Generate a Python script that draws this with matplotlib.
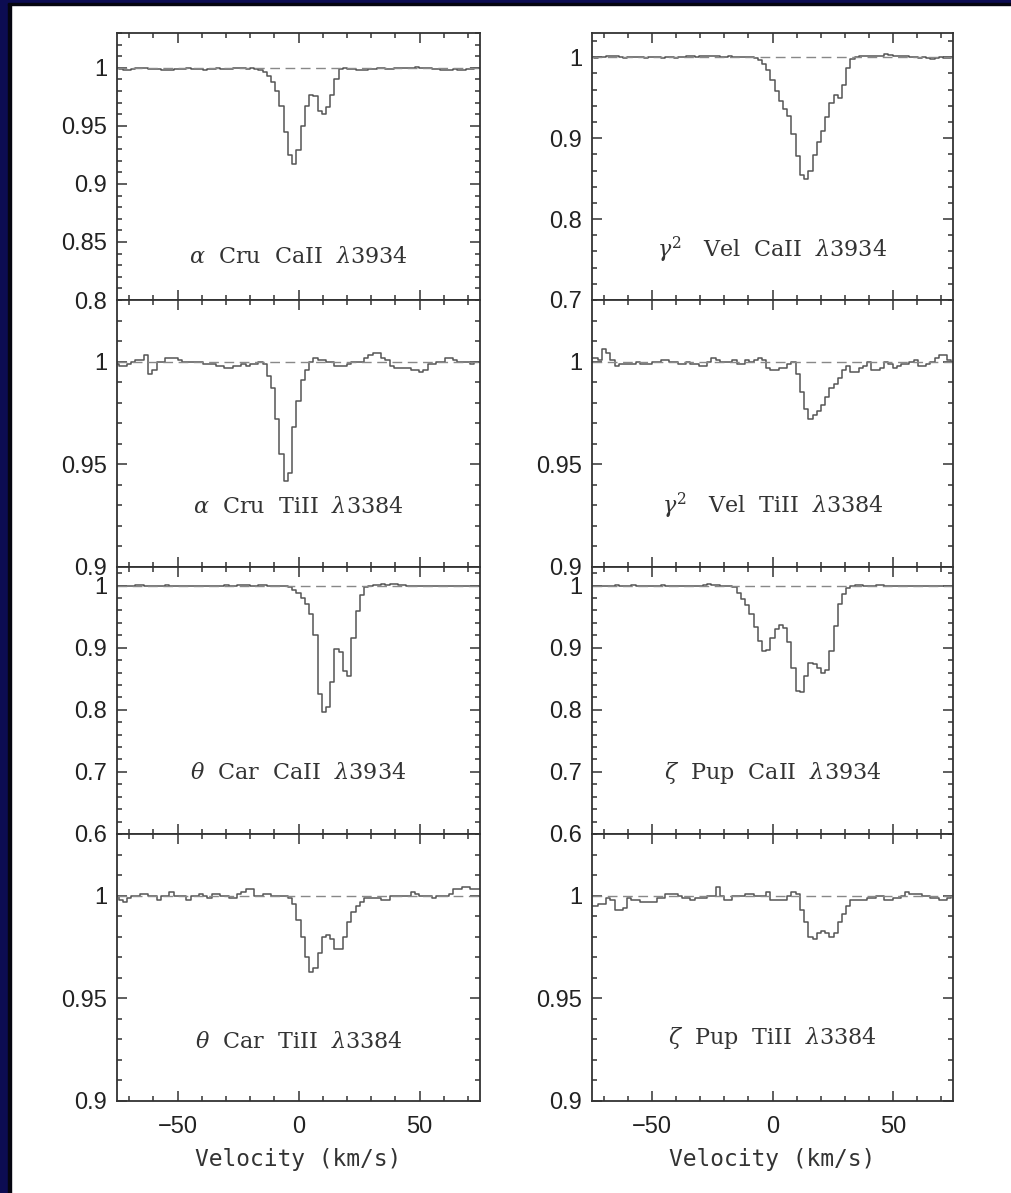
import matplotlib
matplotlib.use('Agg')
import matplotlib.pyplot as plt
import numpy as np
from matplotlib.ticker import MultipleLocator, FuncFormatter
from matplotlib.patches import Rectangle

plt.rcParams['mathtext.fontset'] = 'dejavuserif'

# velocity grid of the spectra (1.75 km/s pixels)
velocity = np.arange(-43, 44) * 1.75

alpha_cru_ca = [
    1.000, 0.999, 0.998, 0.998, 0.999, 1.000, 1.000, 1.000, 0.999, 0.999,
    0.999, 0.998, 0.998, 0.998, 0.999, 0.999, 0.999, 1.000, 0.999, 0.999,
    0.999, 0.998, 0.999, 0.999, 1.000, 0.999, 0.999, 0.999, 1.000, 1.000,
    1.000, 0.999, 1.000, 0.999, 0.998, 0.996, 0.993, 0.988, 0.980, 0.967,
    0.945, 0.925, 0.917, 0.929, 0.950, 0.967, 0.977, 0.976, 0.963, 0.960,
    0.966, 0.977, 0.990, 0.999, 1.000, 0.999, 0.999, 0.998, 0.998, 0.998,
    0.999, 0.999, 1.000, 1.000, 0.999, 0.999, 1.000, 1.000, 1.000, 1.000,
    1.000, 1.001, 1.000, 1.000, 1.000, 0.999, 0.999, 0.998, 0.998, 0.998,
    0.999, 0.998, 0.998, 0.999, 0.999, 1.000, 1.000]

gamma_vel_ca = [
    1.000, 0.999, 1.000, 1.000, 1.001, 1.002, 1.001, 1.000, 0.999, 1.000,
    1.000, 1.000, 1.000, 0.999, 1.000, 1.000, 1.000, 0.999, 1.000, 1.000,
    0.999, 1.000, 1.000, 1.001, 1.001, 1.000, 1.001, 1.002, 1.001, 1.001,
    1.001, 1.000, 1.000, 1.001, 1.000, 1.000, 1.000, 1.000, 1.000, 0.999,
    0.997, 0.992, 0.984, 0.972, 0.958, 0.946, 0.936, 0.928, 0.905, 0.878,
    0.855, 0.850, 0.859, 0.879, 0.895, 0.909, 0.926, 0.943, 0.953, 0.950,
    0.966, 0.987, 0.998, 1.000, 1.001, 1.001, 1.002, 1.001, 1.001, 1.002,
    1.004, 1.003, 1.002, 1.001, 1.001, 1.001, 1.000, 1.000, 0.999, 1.000,
    0.999, 0.998, 0.999, 1.000, 0.999, 0.999, 1.000]

alpha_cru_ti = [
    0.999, 0.998, 0.998, 0.999, 1.000, 1.001, 1.001, 1.003, 0.994, 0.996,
    1.000, 1.000, 1.002, 1.002, 1.002, 1.001, 1.000, 1.000, 1.000, 1.000,
    1.000, 0.999, 0.999, 0.999, 0.998, 0.998, 0.997, 0.997, 0.998, 0.998,
    0.999, 0.998, 0.999, 0.999, 1.000, 0.999, 0.993, 0.987, 0.972, 0.955,
    0.942, 0.946, 0.968, 0.981, 0.991, 0.996, 1.000, 1.002, 1.001, 1.001,
    1.000, 1.000, 0.998, 0.998, 0.998, 0.999, 1.000, 1.000, 1.000, 1.002,
    1.003, 1.004, 1.004, 1.002, 1.001, 0.998, 0.997, 0.997, 0.997, 0.997,
    0.996, 0.996, 0.995, 0.996, 0.999, 0.999, 1.000, 1.000, 1.002, 1.002,
    1.001, 1.000, 1.000, 1.000, 0.999, 1.000, 1.000]

gamma_vel_ti = [
    1.002, 1.002, 1.001, 1.006, 1.004, 1.001, 0.998, 0.999, 0.999, 0.999,
    0.999, 1.000, 0.999, 0.999, 0.999, 1.000, 1.000, 1.001, 1.001, 1.000,
    1.000, 0.999, 0.999, 1.000, 0.999, 0.999, 0.998, 0.998, 1.000, 1.002,
    1.001, 1.000, 1.000, 1.000, 1.001, 0.999, 0.999, 1.001, 1.000, 1.001,
    1.002, 1.001, 0.997, 0.996, 0.996, 0.997, 0.997, 0.999, 1.000, 0.994,
    0.985, 0.977, 0.972, 0.974, 0.976, 0.979, 0.983, 0.987, 0.989, 0.992,
    0.996, 0.998, 0.995, 0.995, 0.997, 0.998, 1.000, 0.996, 0.996, 0.997,
    1.000, 0.999, 0.997, 0.998, 0.999, 0.999, 1.000, 1.001, 0.998, 0.998,
    0.999, 1.000, 1.002, 1.003, 1.003, 1.001, 1.000]

theta_car_ca = [
    1.000, 0.999, 0.999, 1.000, 1.000, 1.001, 1.001, 1.000, 0.999, 0.999,
    1.000, 1.000, 1.001, 1.000, 0.999, 0.999, 1.000, 1.000, 1.000, 1.000,
    0.999, 0.999, 1.000, 1.000, 1.000, 1.000, 1.001, 1.000, 1.000, 1.001,
    1.001, 1.001, 1.000, 1.000, 1.001, 1.001, 1.000, 1.000, 1.000, 1.000,
    0.999, 0.997, 0.993, 0.988, 0.980, 0.970, 0.955, 0.920, 0.825, 0.796,
    0.804, 0.845, 0.898, 0.893, 0.862, 0.855, 0.915, 0.959, 0.985, 0.998,
    1.000, 1.001, 1.001, 1.002, 1.001, 1.002, 1.002, 1.001, 1.001, 1.000,
    1.000, 1.000, 0.999, 0.999, 1.000, 1.000, 1.000, 1.000, 0.999, 0.999,
    1.000, 1.000, 1.000, 0.999, 0.999, 1.000, 1.000]

zeta_pup_ca = [
    1.000, 0.999, 0.999, 1.000, 1.000, 1.000, 1.001, 1.000, 0.999, 1.000,
    1.001, 1.000, 0.999, 0.999, 1.000, 1.000, 1.000, 1.001, 1.000, 1.000,
    1.000, 0.999, 1.000, 1.000, 1.000, 1.000, 1.000, 1.001, 1.002, 1.001,
    1.001, 1.000, 1.000, 1.000, 0.998, 0.988, 0.978, 0.968, 0.955, 0.934,
    0.911, 0.895, 0.897, 0.915, 0.930, 0.936, 0.932, 0.910, 0.868, 0.830,
    0.828, 0.855, 0.876, 0.873, 0.867, 0.860, 0.864, 0.895, 0.935, 0.970,
    0.986, 0.996, 1.000, 1.001, 1.001, 1.000, 0.999, 1.000, 1.001, 1.001,
    1.000, 1.000, 1.000, 0.999, 0.999, 1.000, 1.000, 1.000, 0.999, 0.999,
    1.000, 1.000, 1.000, 1.000, 1.000, 0.999, 0.999]

theta_car_ti = [
    1.000, 0.998, 0.997, 0.999, 1.000, 1.000, 1.001, 1.001, 1.000, 1.000,
    0.998, 1.000, 1.000, 1.002, 1.000, 1.000, 1.000, 0.998, 1.000, 1.000,
    1.001, 1.000, 0.999, 1.001, 1.001, 1.000, 1.000, 0.999, 0.999, 1.001,
    1.002, 1.003, 1.003, 1.000, 1.000, 1.001, 1.001, 1.000, 1.000, 1.000,
    1.000, 0.999, 0.996, 0.988, 0.980, 0.970, 0.963, 0.965, 0.972, 0.980,
    0.981, 0.979, 0.974, 0.974, 0.980, 0.987, 0.992, 0.995, 0.997, 0.999,
    0.999, 0.999, 0.999, 0.998, 0.998, 1.000, 1.000, 1.000, 1.000, 1.000,
    1.002, 1.001, 1.000, 1.000, 1.000, 0.999, 1.000, 1.000, 1.000, 1.001,
    1.003, 1.003, 1.004, 1.004, 1.003, 1.003, 1.003]

zeta_pup_ti = [
    0.995, 0.995, 0.996, 0.996, 0.999, 0.998, 0.993, 0.993, 0.994, 0.999,
    0.998, 0.998, 0.997, 0.997, 0.997, 0.997, 0.999, 0.999, 1.001, 1.001,
    1.001, 1.000, 0.999, 0.999, 0.998, 0.999, 0.999, 0.999, 1.000, 1.000,
    1.004, 1.000, 0.998, 0.998, 1.000, 1.000, 1.000, 1.001, 1.001, 1.000,
    1.000, 1.000, 1.002, 0.998, 0.998, 0.998, 0.998, 1.000, 1.002, 1.001,
    0.993, 0.987, 0.980, 0.979, 0.982, 0.983, 0.982, 0.980, 0.982, 0.987,
    0.991, 0.995, 0.998, 0.998, 0.998, 0.998, 0.999, 0.999, 1.000, 1.000,
    0.998, 0.998, 0.999, 0.999, 1.000, 1.002, 1.001, 1.001, 1.001, 1.000,
    1.000, 0.999, 0.999, 0.998, 0.998, 0.999, 1.000]

labels = [
    [r"$\alpha$  Cru  CaII  $\lambda$3934", r"$\gamma^2$   Vel  CaII  $\lambda$3934"],
    [r"$\alpha$  Cru  TiII  $\lambda$3384", r"$\gamma^2$   Vel  TiII  $\lambda$3384"],
    [r"$\theta$  Car  CaII  $\lambda$3934", r"$\zeta$  Pup  CaII  $\lambda$3934"],
    [r"$\theta$  Car  TiII  $\lambda$3384", r"$\zeta$  Pup  TiII  $\lambda$3384"],
]
spectra = [
    [alpha_cru_ca, gamma_vel_ca],
    [alpha_cru_ti, gamma_vel_ti],
    [theta_car_ca, zeta_pup_ca],
    [theta_car_ti, zeta_pup_ti],
]
ymins = [[0.8, 0.7], [0.9, 0.9], [0.6, 0.6], [0.9, 0.9]]
label_y = [[0.16, 0.187], [0.225, 0.23], [0.23, 0.23], [0.22, 0.236]]

W, H = 1011, 1193
fig = plt.figure(figsize=(W / 100, H / 100), dpi=100)
fig.patch.set_facecolor('white')

# dark frame on the left and top
fig.patches.append(Rectangle((0, 0), 8 / W, 1, transform=fig.transFigure,
                             color='#0c0c52', zorder=0))
fig.patches.append(Rectangle((8 / W, 0), 3 / W, 1, transform=fig.transFigure,
                             color='#050510', zorder=0))
fig.patches.append(Rectangle((0, 1 - 3 / H), 1, 3 / H, transform=fig.transFigure,
                             color='#0c0c52', zorder=0))
fig.patches.append(Rectangle((8 / W, 1 - 5 / H), 1, 2 / H, transform=fig.transFigure,
                             color='#050510', zorder=0))

ink = '#333333'
col_x = [117 / W, 592 / W]
col_w = [363 / W, 361 / W]
row_h = 267 / H

for r in range(4):
    for c in range(2):
        bottom = (H - (33 + 267 * (r + 1))) / H
        ax = fig.add_axes([col_x[c], bottom, col_w[c], row_h])
        ax.step(velocity, spectra[r][c], where='mid', color='#555555', lw=1.1)
        ax.plot([-75, 75], [1, 1], color='#888888', lw=1.0, dashes=(7, 4))
        ax.set_xlim(-75, 75)
        ax.set_ylim(ymins[r][c], 1.03)

        ax.xaxis.set_major_locator(MultipleLocator(50))
        ax.xaxis.set_minor_locator(MultipleLocator(10))
        if ymins[r][c] in (0.7, 0.6):
            ax.yaxis.set_major_locator(MultipleLocator(0.1))
            ax.yaxis.set_minor_locator(MultipleLocator(0.02))
        else:
            ax.yaxis.set_major_locator(MultipleLocator(0.05))
            ax.yaxis.set_minor_locator(MultipleLocator(0.01))
        ax.yaxis.set_major_formatter(FuncFormatter(lambda v, p: '%g' % round(v, 3)))

        ax.tick_params(which='both', direction='in', top=True, right=True,
                       color=ink, width=1.1, labelcolor='#222222')
        ax.tick_params(which='major', length=7)
        ax.tick_params(which='minor', length=3.5)
        ax.tick_params(axis='y', labelsize=17, pad=7)
        ax.tick_params(axis='x', labelsize=17, pad=11)
        for lab in ax.get_yticklabels() + ax.get_xticklabels():
            lab.set_fontfamily('Liberation Sans')
        for sp in ax.spines.values():
            sp.set_color(ink)
            sp.set_linewidth(1.3)

        if r < 3:
            ax.tick_params(axis='x', labelbottom=False)
        else:
            ax.set_xlabel('Velocity (km/s)', fontsize=16.5, family='DejaVu Sans Mono',
                          color='#333333', labelpad=7)

        ax.text(0.5, label_y[r][c], labels[r][c], transform=ax.transAxes,
                ha='center', va='center', fontsize=16, family='DejaVu Serif',
                color='#333333')

fig.savefig('out.png', dpi=100)
